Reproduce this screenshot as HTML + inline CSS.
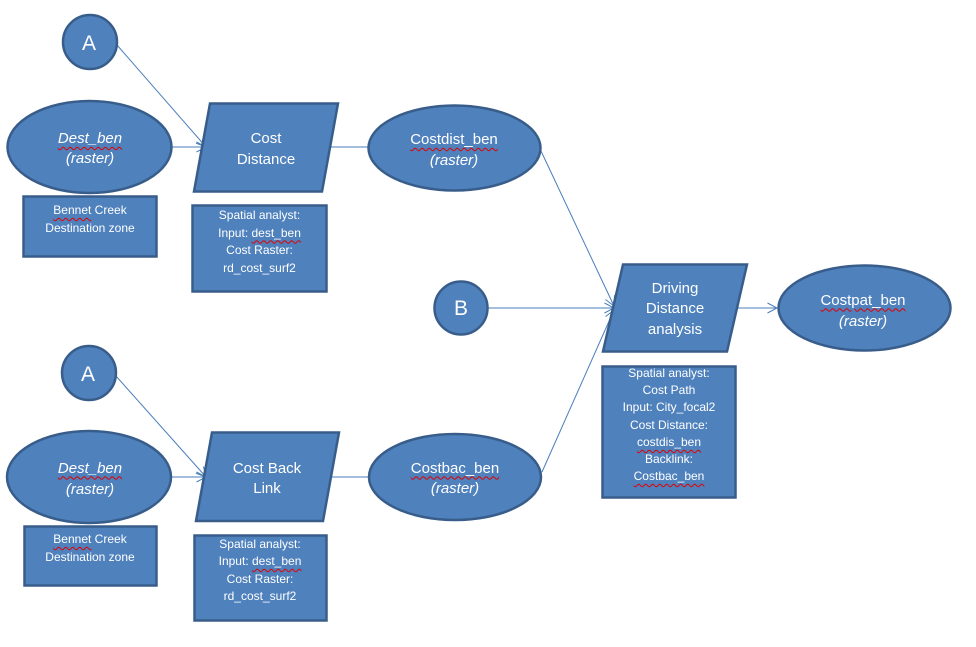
<!DOCTYPE html>
<html><head><meta charset="utf-8">
<style>
html,body{margin:0;padding:0;background:#fff;}
#c{position:relative;width:976px;height:647px;overflow:hidden;background:#fff;font-family:"Liberation Sans",Arial,sans-serif;color:#fff;}
svg{position:absolute;left:0;top:0;}
.t{position:absolute;text-align:center;white-space:nowrap;}
.big{font-size:15px;line-height:20.5px;}
.sm{font-size:12px;line-height:17.5px;}
.ci{font-size:21px;line-height:24px;}
.w{text-decoration:underline wavy #e00000;text-decoration-thickness:1px;text-underline-offset:3px;}
i{font-style:italic;}
</style></head><body>
<div id="c">
<svg width="976" height="647" viewBox="0 0 976 647">
<defs>
<marker id="ar" markerWidth="12" markerHeight="12" refX="10" refY="6" orient="auto" markerUnits="userSpaceOnUse">
<path d="M0.5,1 L10,6 L0.5,11" fill="none" stroke="#4A7EBB" stroke-width="1"/>
</marker>
</defs>
<g stroke="#4A7EBB" stroke-width="1" fill="none">
<line x1="117" y1="45" x2="206" y2="147" marker-end="url(#ar)"/>
<line x1="172" y1="147" x2="206" y2="147" marker-end="url(#ar)"/>
<line x1="328" y1="147" x2="369" y2="147"/>
<line x1="116" y1="376" x2="206" y2="477" marker-end="url(#ar)"/>
<line x1="171" y1="477" x2="206" y2="477" marker-end="url(#ar)"/>
<line x1="330" y1="477" x2="369" y2="477"/>
<line x1="541" y1="151" x2="614" y2="306" marker-end="url(#ar)"/>
<line x1="488" y1="308" x2="614" y2="308" marker-end="url(#ar)"/>
<line x1="542" y1="472" x2="614" y2="310" marker-end="url(#ar)"/>
<line x1="736" y1="308" x2="777" y2="308" marker-end="url(#ar)"/>
</g>
<g fill="#4F81BD" stroke="#385D8A" stroke-width="2.5">
<circle cx="90" cy="42" r="27"/>
<ellipse cx="89.5" cy="147" rx="82" ry="46"/>
<rect x="23.5" y="196.5" width="133" height="60"/>
<polygon points="210,103.5 338,103.5 322,191.5 194,191.5"/>
<rect x="192.5" y="205.5" width="134" height="86"/>
<ellipse cx="454.5" cy="148" rx="86" ry="42.5"/>
<circle cx="461" cy="308" r="26.5"/>
<polygon points="623,264.5 747,264.5 727,351.5 603,351.5"/>
<rect x="602.5" y="366.5" width="133" height="131"/>
<ellipse cx="864.5" cy="308" rx="86" ry="42.5"/>
<circle cx="89" cy="373" r="27"/>
<ellipse cx="89" cy="477" rx="82" ry="46"/>
<rect x="24.5" y="526.5" width="132" height="59"/>
<polygon points="212,432.5 339,432.5 323,521 196,521"/>
<rect x="194.5" y="535.5" width="132" height="85"/>
<ellipse cx="455" cy="477" rx="86" ry="43"/>
</g>
</svg>

<div class="t ci" style="left:60px;width:58px;top:32px;">A</div>
<div class="t ci" style="left:59px;width:58px;top:363px;">A</div>
<div class="t ci" style="left:432px;width:58px;top:297px;">B</div>

<div class="t big" style="left:10px;width:160px;top:129px;line-height:20px;"><i><span class="w">Dest_ben</span><br>(raster)</i></div>
<div class="t big" style="left:10px;width:160px;top:457.5px;line-height:21px;"><i><span class="w">Dest_ben</span><br>(raster)</i></div>

<div class="t big" style="left:196px;width:140px;top:128px;line-height:21px;">Cost<br>Distance</div>
<div class="t big" style="left:197px;width:140px;top:458.5px;line-height:20px;">Cost Back<br>Link</div>

<div class="t big" style="left:374px;width:160px;top:129px;line-height:21px;"><span class="w">Costdist_ben</span><br><i>(raster)</i></div>
<div class="t big" style="left:375px;width:160px;top:458.5px;line-height:20px;"><span class="w">Costbac_ben</span><br><i>(raster)</i></div>

<div class="t big" style="left:605px;width:140px;top:278.5px;line-height:20.5px;">Driving<br>Distance<br>analysis</div>
<div class="t big" style="left:783px;width:160px;top:289.5px;line-height:21px;"><span class="w">Costpat_ben</span><br><i>(raster)</i></div>

<div class="t sm" style="left:24px;width:132px;top:201px;line-height:18px;"><span class="w">Bennet</span> Creek<br>Destination zone</div>
<div class="t sm" style="left:24px;width:132px;top:530px;line-height:18px;"><span class="w">Bennet</span> Creek<br>Destination zone</div>

<div class="t sm" style="left:193px;width:133px;top:207px;">Spatial analyst:<br>Input: <span class="w">dest_ben</span><br>Cost Raster:<br>rd_cost_surf2</div>
<div class="t sm" style="left:194px;width:132px;top:535.5px;">Spatial analyst:<br>Input: <span class="w">dest_ben</span><br>Cost Raster:<br>rd_cost_surf2</div>

<div class="t sm" style="left:602px;width:134px;top:365px;line-height:17.2px;">Spatial analyst:<br>Cost Path<br>Input: City_focal2<br>Cost Distance:<br><span class="w">costdis_ben</span><br>Backlink:<br><span class="w">Costbac_ben</span></div>
</div>
</body></html>
